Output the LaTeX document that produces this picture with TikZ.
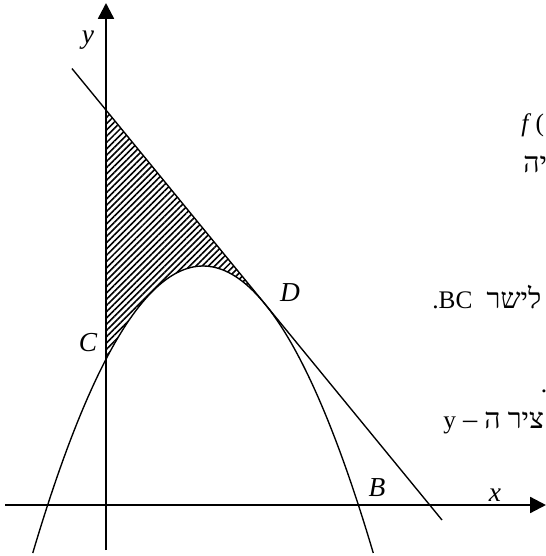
\documentclass[tikz,border=0pt]{standalone}
\usepackage{fontspec}
\setmainfont{Liberation Serif}
\newfontfamily\hebfont[Script=Hebrew, Scale=1.12]{Liberation Serif}
\TeXXeTstate=1
\usetikzlibrary{arrows.meta, patterns.meta}

\begin{document}
\begin{tikzpicture}[x=1cm, y=1cm, every node/.style={font=\fontsize{13}{15}\selectfont\itshape},
    declare function={f(\x)=3.983-0.594*(\x-1.617)^2;}]
    % Define styles for the drawing
    \tikzstyle{axis} = [line width=1.1pt, -{Triangle[length=7.5pt, width=7.5pt]}]
    \tikzstyle{curve} = [line width=0.65pt]
    \tikzstyle{ptlabel} = [inner sep=0pt]
    \tikzstyle{heb} = [inner sep=0pt, anchor=base west, font=\fontsize{12}{14}\selectfont\hebfont]
    \tikzstyle{hatch} = [pattern={Lines[angle=45, distance=2.1pt, line width=0.75pt]}]

    \useasboundingbox (-1.7667,-0.85) rectangle (7.3333,8.4167);

    % Define the points
    \coordinate (xstart) at (-1.683,0);
    \coordinate (xend) at (7.333,0);
    \coordinate (ystart) at (0,-0.75);
    \coordinate (yend) at (0,8.367);
    \coordinate (tstart) at (-0.567,7.274);
    \coordinate (tend) at (5.6,-0.25);
    \coordinate (top) at (0,6.582);
    \coordinate (cpt) at (0,{f(0)});
    \coordinate (dpt) at (2.644,3.3565);

    % Hatched region between the line and the parabola
    \fill [hatch] (top) -- (dpt) -- plot[domain=2.644:0, samples=40] (\x,{f(\x)}) -- cycle;

    % Draw the parabola, the tangent and the axes
    \draw [curve] plot[domain=-1.221:4.455, samples=100] (\x,{f(\x)});
    \draw [curve] (tstart) -- (tend);
    \draw [axis] (xstart) -- (xend);
    \draw [axis] (ystart) -- (yend);

    % Labels
    \node (ylab) [ptlabel] at (-0.3,7.75) {y};
    \node (xlab) [ptlabel] at (6.483,0.167) {x};
    \node (blab) [ptlabel] at (4.517,0.283) {B};
    \node (clab) [ptlabel] at (-0.3,2.7) {C};
    \node (dlab) [ptlabel] at (3.067,3.533) {D};

    % Text cut at the right border
    \node (ftext) [heb, font=\fontsize{12}{14}\selectfont\rmfamily] at (6.917,6.217) {\textit{f}\,(};
    \node (line1) [heb] at (6.95,5.55) {\beginR יה\endR};
    \node (line2) [heb] at (5.433,3.283) {\beginR לישר \ \beginL{\rmfamily BC}\endL{\rmfamily.}\endR};
    \node (line3) [heb, font=\fontsize{12}{14}\selectfont\rmfamily] at (7.24,1.883) {.};
    \node (line4) [heb] at (5.617,1.283) {\beginR ציר ה – {\rmfamily y}\endR};

\end{tikzpicture}
\end{document}
